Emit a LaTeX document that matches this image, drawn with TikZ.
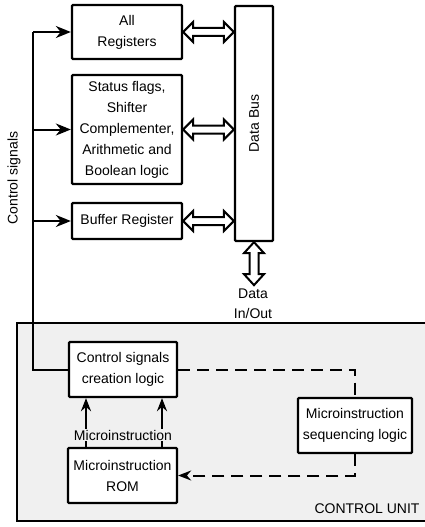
\documentclass[tikz,border=0pt]{standalone}
\usepackage{fontspec}
\setmainfont{Liberation Sans}
\usetikzlibrary{arrows.meta,calc}
\definecolor{cufill}{gray}{0.94}
\tikzset{
  box/.style={draw, line width=2.3pt, inner sep=0pt, align=center, rounded corners=1pt},
  lbl/.style={inner sep=1pt, align=center},
  ctl/.style={line width=2pt},
  ctlarr/.style={line width=2pt, -{Stealth[length=15pt,width=12pt]}},
  miarr/.style={line width=2.2pt, -{Stealth[length=13pt,width=10pt]}},
  dsh/.style={line width=2pt, dash pattern=on 12pt off 7pt},
  hollow/.style={line width=2pt, fill=white, line join=miter},
}
\newcommand{\harrow}[2]{%
  \draw[hollow] (#1) -- ($(#1)+(10,-10)$) -- ($(#1)+(10,-4)$) -- ($(#2)+(-10,-4)$)
    -- ($(#2)+(-10,-10)$) -- (#2) -- ($(#2)+(-10,10)$) -- ($(#2)+(-10,4)$)
    -- ($(#1)+(10,4)$) -- ($(#1)+(10,10)$) -- cycle;}
\newcommand{\varrow}[2]{%
  \draw[hollow] (#1) -- ($(#1)+(-10,11)$) -- ($(#1)+(-4.5,11)$) -- ($(#2)+(-4.5,-11)$)
    -- ($(#2)+(-10,-11)$) -- (#2) -- ($(#2)+(10,-11)$) -- ($(#2)+(4.5,-11)$)
    -- ($(#1)+(4.5,11)$) -- ($(#1)+(10,11)$) -- cycle;}
\begin{document}
\begin{tikzpicture}[x=1pt,y=-1pt,font=\fontsize{14}{21}\selectfont]
\useasboundingbox (0,0) rectangle (425,527);
% control unit area
\fill[cufill] (17,323) rectangle (440,521);
\draw[line width=2.3pt] (440,323) -- (17,323) -- (17,521) -- (440,521);
% boxes
\node[box, minimum width=110, minimum height=54] (reg) at (127,32) {All\\Registers};
\node[box, minimum width=110, minimum height=109] (stat) at (127,129.5)
  {Status flags,\\Shifter\\Complementer,\\Arithmetic and\\Boolean logic};
\node[box, minimum width=110, minimum height=36] (buf) at (127,221) {Buffer Register};
\node[box, minimum width=38, minimum height=235] (bus) at (254,123.5) {};
\node[lbl, rotate=90] (bustxt) at (bus.center) {Data Bus};
\node[box, fill=white, minimum width=108, minimum height=55] (cs) at (123,369.5) {Control signals\\creation logic};
\node[box, fill=white, minimum width=109, minimum height=55] (rom) at (122.5,475.5) {Microinstruction\\ROM};
\node[box, fill=white, minimum width=114, minimum height=55] (seq) at (355,425.5) {Microinstruction\\sequencing logic};
% texts
\node[lbl, rotate=90] (cstxt) at (14,178) {Control signals};
\node[lbl] (din) at (253,294) {Data};
\node[lbl] (dout) at (253,313) {In/Out};
\node[lbl] (cu) at (367,509) {CONTROL UNIT};
% hollow bus arrows
\harrow{reg.east}{reg.east -| bus.west}
\harrow{stat.east}{stat.east -| bus.west}
\harrow{buf.east}{buf.east -| bus.west}
\coordinate (dend) at ($(bus.south)+(0,43)$);
\varrow{bus.south}{dend}
% control signals
\coordinate (cx) at (33,0);
\draw[ctl] (cs.west) -- (cs.west -| cx) -- (reg.west -| cx);
\draw[ctlarr] (reg.west -| cx) -- (reg.west);
\draw[ctlarr] (stat.west -| cx) -- (stat.west);
\draw[ctlarr] (buf.west -| cx) -- (buf.west);
% microinstruction arrows
\coordinate (m1) at (86,0);
\coordinate (m2) at (162,0);
\draw[miarr] (rom.north -| m1) -- (cs.south -| m1);
\draw[miarr] (rom.north -| m2) -- (cs.south -| m2);
\node[lbl, fill=cufill] (mi) at (123,435) {Microinstruction};
% dashed sequencing
\draw[dsh] (cs.east) -| (seq.north);
\draw[dsh, -{Stealth[length=13pt,width=10pt]}] (seq.south) |- (rom.east);
\end{tikzpicture}
\end{document}
